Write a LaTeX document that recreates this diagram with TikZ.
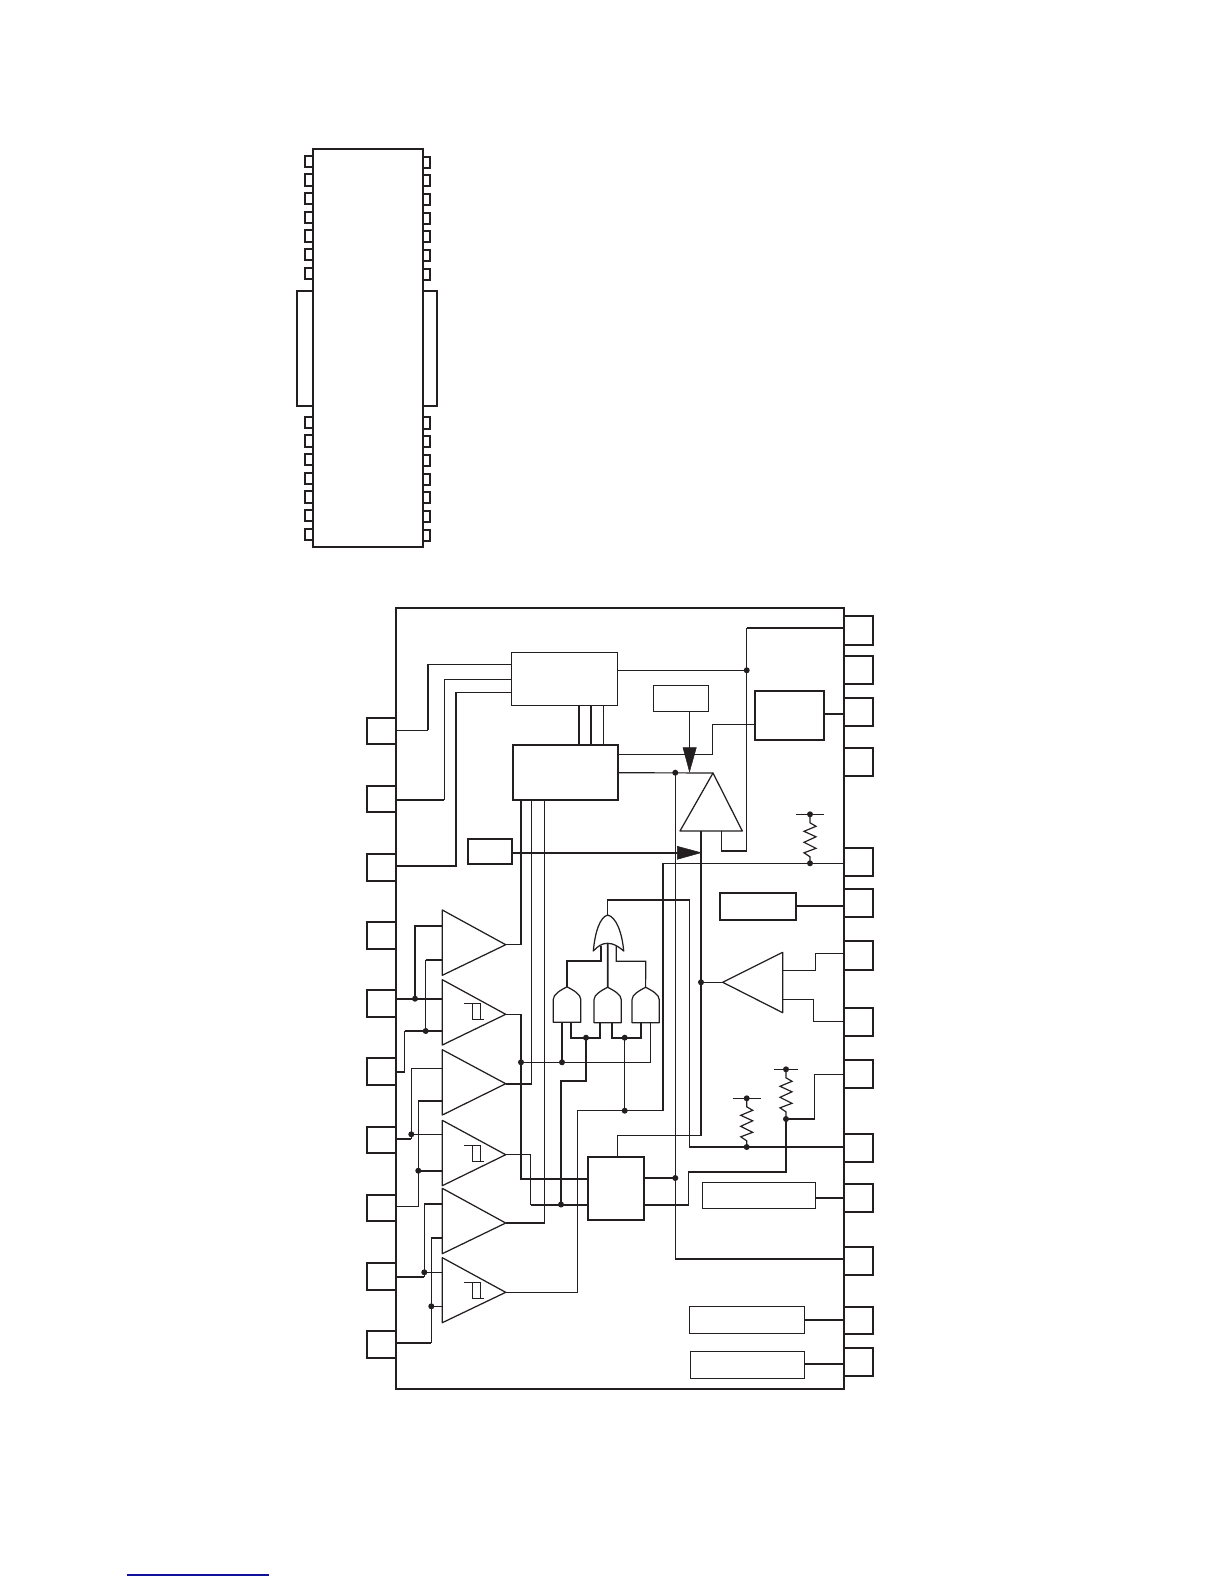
\documentclass[tikz,border=0pt]{standalone}
\definecolor{ink}{HTML}{231F20}
\definecolor{linkblue}{HTML}{10109C}
\tikzset{
  thinw/.style={draw=ink,line width=1.15pt,line join=miter},
  thickw/.style={draw=ink,line width=1.8pt,line join=miter},
  boxthin/.style={draw=ink,line width=1.2pt,inner sep=0pt,outer sep=0pt},
  boxthick/.style={draw=ink,line width=1.7pt,inner sep=0pt,outer sep=0pt},
  dotn/.style={circle,fill=ink,inner sep=0pt,outer sep=0pt,minimum size=6pt},
  arrowfill/.style={fill=ink,draw=ink,line width=.5pt,line join=miter},
  gate/.style={draw=ink,line width=1.25pt,line join=round}
}
\newcommand{\bx}[6][boxthin]{%
  \pgfmathsetmacro{\bxw}{#5-#3}\pgfmathsetmacro{\bxh}{#6-#4}%
  \node[#1,anchor=north west,minimum width=\bxw pt,minimum height=\bxh pt] (#2) at (#3,#4) {};}
% left amplifier: name, top y, bottom y, tip y
\newcommand{\lamp}[4]{%
  \coordinate (#1-in) at (442.3,#4);
  \coordinate (#1-out) at (505.7,#4);
  \draw[gate] (442.3,#2) -- (#1-out) -- (442.3,#3) -- cycle;}
% hysteresis symbol at top-left corner
\newcommand{\hyst}[2]{%
  \draw[ink,line width=.9pt] (#1,#2) -- (#1+16,#2) -- (#1+16,#2+16) -- (#1+8,#2+16) -- (#1+8,#2);
  \draw[ink,line width=.9pt] (#1+16,#2+16) -- (#1+20,#2+16);}
% AND gate: name, left x, right x, bottom y
\newcommand{\andg}[4]{%
  \pgfmathsetmacro{\amid}{(#2+#3)/2}%
  \coordinate (#1-out) at (\amid,#4-35.5);
  \draw[gate] (#2,#4) -- (#2,#4-23) .. controls (#2,#4-28) and (#2+7,#4-32) .. (#1-out)
     .. controls (#3-7,#4-32) and (#3,#4-28) .. (#3,#4-23) -- (#3,#4) -- cycle;}
% resistor zigzag
\newcommand{\zig}[2]{%
  \draw[ink,line width=1.2pt,line join=miter] (#1,#2) -- (#1,#2+8.5) -- (#1+6,#2+12) -- (#1-6,#2+17) -- (#1+6,#2+22.5) -- (#1-6,#2+28) -- (#1+6,#2+34) -- (#1-6,#2+38.5) -- (#1,#2+42.5) -- (#1,#2+49);}
\begin{document}
\begin{tikzpicture}[x=1pt,y=-1pt]
\useasboundingbox (0,0) rectangle (1224,1584);

% ---------- package outline ----------
\bx[boxthick]{pkg}{312.7}{149}{423}{547}
\bx[boxthick]{wingl}{296.7}{290.7}{312.7}{406}
\bx[boxthick]{wingr}{423}{290.7}{437}{406}
\foreach \n/\a/\b in {1/156/166.7,2/174.3/185.7,3/193/204,4/212/223,5/230/241.7,6/249/260,7/267.7/279,8/416.7/427.7,9/435.3/446.7,10/453.7/465,11/472.7/484,12/490.7/502.7,13/509.7/521,14/528.7/540}{\bx[boxthick]{pl\n}{304.7}{\a}{312.7}{\b}}
\foreach \n/\a/\b in {1/156.7/167.7,2/174.7/186,3/193.7/204.7,4/212.7/223.7,5/230.7/242.3,6/249.7/260.7,7/268.7/279.7,8/417.3/428.7,9/435.7/447.3,10/454.7/465.7,11/473.7/484.7,12/492/503.3,13/510.7/521.7,14/529.7/541}{\bx[boxthick]{pr\n}{423}{\a}{430.3}{\b}}

% ---------- main chip ----------
\bx[boxthick]{main}{395.7}{607.7}{844}{1389.3}
\foreach \n/\a/\b in {1/717.7/744.3,2/785.7/812.3,3/853.7/881,4/922.3/949,5/990.3/1017,6/1058.3/1085,7/1126.7/1153.3,8/1194.7/1221.3,9/1262.7/1290,10/1330.7/1358}{\bx[boxthick]{a\n}{366.7}{\a}{395.7}{\b}}
\foreach \n/\a/\b in {1/616.3/644.7,2/656/684.3,3/698.3/726.3,4/747.7/775.7,5/848.3/876.3,6/888.7/917,7/941.3/969.7,8/1007.7/1035.7,9/1059.7/1087.7,10/1133.7/1162,11/1183.7/1211.7,12/1247.3/1275.3,13/1306.7/1334.3,14/1348/1376.3}{\bx[boxthick]{b\n}{844}{\a}{873.3}{\b}}

% ---------- blocks ----------
\bx{ctl}{511.3}{652.3}{617.7}{705.3}
\bx[boxthick]{drv}{512.7}{745.3}{617.7}{800}
\bx[boxthick]{small}{467.7}{838.7}{511.7}{864.3}
\bx{ref}{653.7}{685.3}{708.3}{711.3}
\bx[boxthick]{tr}{755.3}{691.3}{824}{740}
\bx[boxthick]{rb}{720}{893}{796.3}{920}
\bx[boxthick]{mid}{587.7}{1156.7}{644.3}{1220.3}
\bx{lo1}{702.3}{1182.7}{815.3}{1208.7}
\bx{lo2}{689.3}{1306.3}{804.3}{1333.3}
\bx{lo3}{690.3}{1351.3}{804.3}{1378.3}

% ---------- amplifiers ----------
\lamp{A1}{910}{975.3}{944.7}
\lamp{A2}{979.7}{1045}{1014.3}
\lamp{A3}{1049.7}{1115}{1083.7}
\lamp{A4}{1120.3}{1185.7}{1154.7}
\lamp{A5}{1188.3}{1253.7}{1223}
\lamp{A6}{1257.7}{1322.7}{1292.3}
\hyst{464.3}{1003.3}
\hyst{464}{1145}
\hyst{464}{1282.7}
\coordinate (pa) at (713,773);
\draw[gate] (pa) -- (742.3,831) -- (680,831) -- cycle;
\coordinate (ra) at (722.7,982.3);
\draw[gate] (ra) -- (782.7,952.3) -- (782.7,1012.7) -- cycle;

% ---------- gates ----------
\andg{N1}{553.3}{580.7}{1022.3}
\andg{N2}{594}{621.3}{1022.7}
\andg{N3}{632}{659.3}{1022.7}
\coordinate (orout) at (607.7,915);
\draw[gate] (orout) .. controls (616,917) and (622,932) .. (623.7,951)
  .. controls (618,946) and (613,943.3) .. (607.7,943.3)
  .. controls (602,943.3) and (598,946) .. (593.3,951)
  .. controls (595,932) and (600,917) .. (orout);

% ---------- junction dots ----------
\foreach \n/\x/\y in {j1/746.7/670.3,j2/675.3/772.7,j3/810/863.3,j4/810/814.3,j5/701/982.3,j6/786/1069.3,j7/786/1119,j8/746.7/1098.3,j9/746.7/1147,j10/675.3/1178,j11/624.7/1110.7,j12/624.7/1037.7,j13/586/1037.7,j14/562/1062.3,j15/521/1062.3,j16/561/1204.5,j17/415/998.7,j18/425.7/1031,j19/411.3/1134.3,j20/418.3/1170.7,j21/424.3/1272.3,j22/431.3/1306.3}{\node[dotn] (\n) at (\x,\y) {};}

% ---------- wires: upper left ----------
\draw[thinw] (main.west |- 0,730.3) -- (428,730.3);
\draw[thickw] (428,730.3) -- (428,664.3);
\draw[thinw] (428,664.3) -- (ctl.west |- 0,664.3);
\draw[thickw] (main.west |- 0,800) -- (444.3,800);
\draw[thinw] (444.3,800) -- (444.3,679.3) -- (ctl.west |- 0,679.3);
\draw[thickw] (main.west |- 0,866) -- (456,866) -- (456,692.3);
\draw[thinw] (456,692.3) -- (ctl.west |- 0,692.3);
\draw[thickw] (579,705.3) -- (579,745.3);
\draw[thickw] (591,705.3) -- (591,745.3);
\draw[thinw] (603.3,705.3) -- (603.3,745.3);

% ---------- wires: upper right ----------
\draw[thinw] (ctl.east |- 0,670.3) -- (j1.center);
\draw[thickw] (main.east |- 0,628) -- (746.7,628);
\draw[thinw] (746.7,628) -- (j1.center) -- (746.7,851) -- (721.7,851) -- (721.7,831);
\draw[thinw] (tr.east |- 0,714) -- (main.east |- 0,714);
\draw[thinw] (tr.west |- 0,724.3) -- (712.3,724.3) -- (712.3,754.3) -- (drv.east |- 0,754.3);
\draw[thinw] (drv.east |- 0,772.7) -- (pa);
\draw[thinw] (j2.center) -- (675.3,1259) -- (main.east |- 0,1259);
\draw[thinw] (701,831) -- (701,1135.7) -- (617.7,1135.7) -- (617.7,1156.7);
\draw[thinw] (689.3,711.3) -- (689.3,750);
\draw[arrowfill] (683,747.7) -- (696.3,747.7) -- (689.5,771.7) -- cycle;
\draw[thickw] (small.east |- 0,852.7) -- (680,852.7);
\draw[arrowfill] (677.3,846.3) -- (677.3,859.3) -- (701,852.7) -- cycle;
\draw[thinw] (663,863.3) -- (j3.center) -- (main.east |- 0,863.3);
\draw[thinw] (663,863.3) -- (663,1110.7) -- (j11.center) -- (577.7,1110.7) -- (577.7,1292.3) -- (A6-out);
\draw[thinw] (796,814.3) -- (823.7,814.3);
\zig{810}{814.3}
\draw[thinw] (rb.east |- 0,906) -- (main.east |- 0,906);

% ---------- wires: right amplifier ----------
\draw[thinw] (j5.center) -- (ra);
\draw[thinw] (782.7,970.3) -- (815.7,970.3) -- (815.7,953.7) -- (main.east |- 0,953.7);
\draw[thinw] (782.7,999.3) -- (813.7,999.3) -- (813.7,1021.3) -- (main.east |- 0,1021.3);

% ---------- wires: resistors ----------
\draw[thinw] (774,1069.3) -- (798.3,1069.3);
\zig{786}{1069.3}
\draw[thinw] (732.7,1098.3) -- (761.3,1098.3);
\zig{746.7}{1098.3}
\draw[thinw] (j7.center) -- (814.7,1119) -- (814.7,1074.7) -- (main.east |- 0,1074.7);
\draw[thinw] (j7.center) -- (786,1172) -- (688.3,1172) -- (688.3,1205) -- (mid.east |- 0,1205);
\draw[thinw] (j9.center) -- (689.3,1147) -- (689.3,900) -- (607.7,900) -- (orout);
\draw[thinw] (j9.center) -- (main.east |- 0,1147);
\draw[thickw] (mid.east |- 0,1178) -- (j10.center);
\draw[thinw] (lo1.east |- 0,1198) -- (main.east |- 0,1198);
\draw[thickw] (lo2.east |- 0,1319.7) -- (main.east |- 0,1319.7);
\draw[thickw] (lo3.east |- 0,1364) -- (main.east |- 0,1364);

% ---------- wires: amplifier outputs ----------
\draw[thinw] (A1-out) -- (521,944.7) -- (521,800);
\draw[thinw] (A2-out) -- (521,1014.3);
\draw[thickw] (521,1014.3) -- (j15.center) -- (521,1179) -- (mid.west |- 0,1179);
\draw[thickw] (A3-out) -- (531.5,1083.7);
\draw[thinw] (531.5,1083.7) -- (531.5,800);
\draw[thinw] (A4-out) -- (530.7,1154.7) -- (530.7,1205);
\draw[thickw] (530.7,1205) -- (mid.west |- 0,1205);
\draw[thinw] (A5-out) -- (544.7,1223) -- (544.7,800);
\draw[thickw] (j16.center) -- (561,1081.3) -- (586,1081.3) -- (j13.center);

% ---------- wires: gates ----------
\draw[thinw] (j15.center) -- (j14.center) -- (650.3,1062.3) -- (650.3,1022.7);
\draw[thinw] (j14.center) -- (562,1022.3);
\draw[thickw] (570.7,1022.3) -- (570.7,1037.7) -- (j13.center) -- (600,1037.7) -- (600,1022.7);
\draw[thickw] (611.7,1022.7) -- (611.7,1037.7) -- (j12.center) -- (641,1037.7) -- (641,1022.7);
\draw[thinw] (j12.center) -- (j11.center);
\draw[thickw] (N1-out) -- (567,961.3) -- (600.7,961.3) -- (600.7,946);
\draw[thickw] (N2-out) -- (607.7,943.3);
\draw[thinw] (N3-out) -- (645.7,961.3) -- (616.3,961.3) -- (616.3,946);

% ---------- wires: amplifier inputs ----------
\draw[thickw] (main.west |- 0,998.7) -- (442.3,998.7);
\draw[thickw] (j17.center) -- (415,925.7) -- (442.3,925.7);
\draw[thinw] (main.west |- 0,1072) -- (404.7,1072);
\draw[thinw] (404.7,1072) -- (404.7,1031);
\draw[thickw] (404.7,1031) -- (442.3,1031);
\draw[thinw] (j18.center) -- (425.7,960);
\draw[thickw] (425.7,960) -- (442.3,960);
\draw[thickw] (main.west |- 0,1138.7) -- (411.3,1138.7);
\draw[thinw] (411.3,1138.7) -- (j19.center) -- (442.3,1134.3);
\draw[thinw] (j19.center) -- (411.3,1068.3) -- (442.3,1068.3);
\draw[thinw] (main.west |- 0,1206.3) -- (418.3,1206.3) -- (j20.center) -- (418.3,1101) -- (442.3,1101);
\draw[thickw] (j20.center) -- (442.3,1170.7);
\draw[thickw] (main.west |- 0,1276.7) -- (424.3,1276.7);
\draw[thinw] (424.3,1276.7) -- (j21.center) -- (442.3,1272.3);
\draw[thinw] (j21.center) -- (424.3,1203.7);
\draw[thickw] (424.3,1203.7) -- (442.3,1203.7);
\draw[thickw] (main.west |- 0,1343) -- (431.3,1343);
\draw[thinw] (431.3,1343) -- (j22.center) -- (442.3,1306.3);
\draw[thinw] (j22.center) -- (431.3,1237.7);
\draw[thickw] (431.3,1237.7) -- (442.3,1237.7);

% ---------- stray rule at the foot ----------
\coordinate (ul1) at (127.3,1575);
\coordinate (ul2) at (269,1575);
\draw[linkblue,line width=1.1pt] (ul1) -- (ul2);
\end{tikzpicture}
\end{document}
